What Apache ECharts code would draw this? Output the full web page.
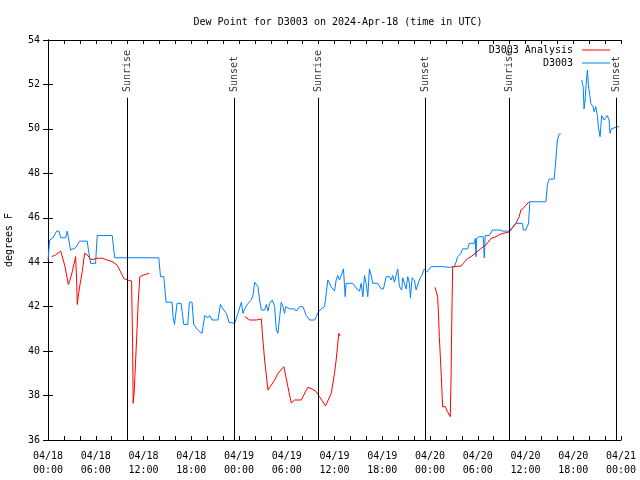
<!DOCTYPE html>
<html>
<head>
<meta charset="utf-8">
<script src="https://cdn.jsdelivr.net/npm/echarts@6/dist/echarts.min.js"></script>
<style>html,body{margin:0;padding:0;background:#fff}#c{width:640px;height:480px}</style>
</head>
<body>
<div id="c"></div>
<script>
// Hours since 2024-04-18 00:00 UTC
var obsHours = [0.00,0.21,0.63,1.09,1.38,1.59,2.22,2.42,2.63,2.76,2.85,3.47,3.70,3.98,4.93,5.06,5.23,5.36,5.98,6.18,8.07,8.28,8.40,13.92,14.14,14.55,14.64,14.84,15.59,15.72,15.89,16.22,16.72,16.85,17.06,17.56,17.77,18.10,18.31,18.82,19.36,19.69,20.11,20.32,20.61,21.36,21.66,21.99,22.42,22.74,23.46,23.87,24.30,24.50,24.71,25.13,25.55,25.75,25.97,26.22,26.38,26.59,26.81,27.22,27.43,27.64,27.85,28.19,28.48,28.69,28.89,29.10,29.31,29.52,29.73,29.85,30.36,30.99,31.20,31.61,32.03,32.24,32.45,32.87,33.49,33.71,34.03,34.33,34.75,34.96,35.16,35.37,35.58,36.00,36.21,36.41,36.62,36.83,37.13,37.34,37.47,38.30,38.80,39.14,39.35,39.56,39.77,39.98,40.18,40.39,40.61,40.81,41.43,41.86,42.15,42.49,42.90,43.12,43.32,43.53,43.94,44.16,44.44,44.57,44.78,45.00,45.20,45.41,45.54,45.75,46.04,46.25,46.66,46.95,47.29,47.58,47.70,48.13,49.59,50.43,51.05,51.27,51.47,51.89,52.09,52.72,52.94,53.56,53.69,53.78,53.88,54.19,54.69,54.82,54.94,55.44,55.86,56.70,57.12,57.96,58.79,59.62,59.71,60.05,60.38,60.55,62.56,62.76,62.97,63.60,63.81,64.01,64.23,64.44,65.50,67.07,67.24,67.36,67.49,67.61,67.78,67.90,68.08,68.20,68.49,68.62,68.83,69.03,69.15,69.37,69.49,69.58,69.87,70.08,70.28,70.50,70.62,70.79,71.54,71.75];
var obsDewpt = [44.1,45.0,45.1,45.4,45.4,45.1,45.1,45.4,45.4,44.7,44.55,44.65,44.65,44.95,44.95,44.6,44.2,43.95,43.95,45.2,45.2,44.5,44.2,44.2,43.35,43.35,42.97,42.2,42.2,41.55,41.2,42.15,42.15,41.8,41.2,41.2,42.2,42.2,41.2,40.95,40.8,41.6,41.5,41.6,41.4,41.4,42.1,41.9,41.7,41.3,41.25,41.7,42.2,41.7,41.9,42.15,42.3,42.5,43.1,43.1,42.9,42.3,41.85,41.85,42.1,41.8,42.15,42.3,42.0,40.95,40.8,41.5,42.2,42.0,41.7,42.0,41.9,41.9,41.8,42.0,42.0,41.8,41.6,41.4,41.4,41.55,41.8,41.9,42.0,42.6,43.2,43.2,42.9,42.7,43.2,43.4,43.2,43.4,43.7,42.45,43.05,43.05,42.8,42.7,43.05,42.45,43.4,43.05,42.45,43.7,43.4,43.05,43.05,42.8,42.8,43.35,43.35,43.2,43.4,43.1,43.7,42.9,42.75,43.3,43.3,42.8,43.35,43.05,42.4,43.3,43.2,42.75,43.2,43.4,43.7,43.55,43.55,43.8,43.8,43.77,43.8,44.0,44.25,44.4,44.6,44.6,44.85,44.85,45.07,44.25,45.07,45.15,45.15,44.2,45.2,45.2,45.45,45.45,45.4,45.4,45.75,45.75,45.45,45.45,45.75,46.72,46.72,47.5,47.74,47.74,48.6,49.5,49.77,49.77,null,52.2,51.9,50.9,51.3,52.0,52.65,51.98,51.5,51.15,51.0,50.77,51.0,50.6,50.1,49.65,50.2,50.6,50.4,50.5,50.6,50.4,49.8,50.0,50.1,50.1];

var anaHours = [0.46,0.97,1.59,1.76,2.09,2.42,2.55,2.76,3.05,3.47,3.60,3.68,3.85,4.01,4.30,4.60,4.93,5.36,5.77,6.18,6.81,7.44,8.07,8.69,9.12,9.53,9.95,10.50,10.63,10.70,10.82,10.91,11.13,11.33,11.54,11.95,12.71,18.00,24.71,25.34,26.18,26.81,26.93,27.22,27.64,28.06,28.48,28.89,29.64,30.14,30.57,30.99,31.82,32.65,33.28,33.71,34.12,34.87,35.59,36.00,36.21,36.54,36.72,42.00,48.63,48.88,48.96,49.08,49.17,49.30,49.42,49.59,49.92,50.21,50.55,50.64,50.77,50.85,51.89,52.31,52.72,53.15,53.78,54.40,55.03,55.66,56.28,56.91,57.54,57.95,58.79,59.21,59.42,59.71,60.05,60.46];
var anaDewpt = [44.25,44.33,44.5,44.3,43.87,43.27,43.0,43.2,43.57,44.25,43.2,42.1,42.6,42.97,43.57,44.4,44.33,44.13,44.13,44.18,44.18,44.1,44.03,43.87,43.57,43.27,43.2,43.15,40.35,37.65,38.1,38.8,40.5,42.15,43.35,43.42,43.5,null,41.55,41.4,41.4,41.45,40.8,39.6,38.25,38.47,38.7,39.0,39.3,38.4,37.67,37.8,37.8,38.37,38.28,38.17,37.95,37.53,38.1,39.0,39.6,40.8,40.68,null,42.87,42.87,42.45,41.55,40.65,39.75,38.85,37.5,37.5,37.27,37.05,38.7,42.15,43.8,43.83,44.0,44.17,44.25,44.43,44.62,44.78,45.07,45.15,45.27,45.33,45.36,45.75,46.05,46.35,46.42,46.57,46.72];

var eventHours = [9.95, 23.38, 33.97, 47.36, 57.97, 71.42];
var eventNames = ['Sunrise', 'Sunset', 'Sunrise', 'Sunset', 'Sunrise', 'Sunset'];

var yTicks = {min: 36, max: 54, step: 2};
var xTicks = {min: 0, max: 72, step: 2, labelStep: 6};

function pairs(xs, ys) {
  return xs.map(function (x, i) { return [x, ys[i] === null ? '-' : ys[i]]; });
}
function pad(n) { return (n < 10 ? '0' : '') + n; }
function xLabel(v) {
  if (Math.round(v) % xTicks.labelStep !== 0) return '';
  var d = 18 + Math.floor(v / 24);
  var h = Math.round(v) % 24;
  return '04/' + pad(d) + '\n' + pad(h) + ':00';
}

var FONT = 'DejaVu Sans Mono';
var chart = echarts.init(document.getElementById('c'), null, {renderer: 'canvas'});
var axisLineStyle = {color: '#000', width: 1};
chart.setOption({
  animation: false,
  backgroundColor: '#fff',
  textStyle: {fontFamily: FONT, fontSize: 10, color: '#000'},
  title: {
    text: 'Dew Point for D3003 on 2024-Apr-18 (time in UTC)',
    left: 333, top: 12, textAlign: 'center',
    textStyle: {fontFamily: FONT, fontSize: 10, fontWeight: 'normal', color: '#000'}
  },
  legend: {
    orient: 'vertical', right: 30, top: 45, padding: 0, itemGap: 3,
    itemWidth: 28, itemHeight: 10, align: 'right', icon: 'path://M0,0L28,0L28,1L0,1Z',
    textStyle: {fontFamily: FONT, fontSize: 10, color: '#000', padding: [0, 4, 0, 0]},
    data: ['D3003 Analysis', 'D3003']
  },
  grid: {left: 48, right: 19, top: 40, bottom: 40, containLabel: false, outerBoundsMode: 'none'},
  xAxis: [{
    type: 'value', min: xTicks.min, max: xTicks.max, interval: xTicks.step,
    axisLine: {show: true, lineStyle: axisLineStyle},
    axisTick: {show: true, inside: true, length: 4, lineStyle: axisLineStyle},
    axisLabel: {formatter: xLabel, fontFamily: FONT, fontSize: 10, color: '#000', lineHeight: 14, margin: 9, showMinLabel: true, showMaxLabel: true},
    splitLine: {show: false}
  }, {
    type: 'value', position: 'top', min: xTicks.min, max: xTicks.max, interval: xTicks.step,
    axisLine: {show: true, lineStyle: axisLineStyle},
    axisTick: {show: true, inside: true, length: 4, lineStyle: axisLineStyle},
    axisLabel: {show: false}, splitLine: {show: false}
  }],
  yAxis: [{
    type: 'value', min: yTicks.min, max: yTicks.max, interval: yTicks.step,
    name: 'degrees F', nameLocation: 'middle', nameGap: 34, nameRotate: 90,
    nameTextStyle: {fontFamily: FONT, fontSize: 10, color: '#000'},
    axisLine: {show: true, lineStyle: axisLineStyle},
    axisTick: {show: true, inside: true, length: 5, lineStyle: axisLineStyle},
    axisLabel: {fontFamily: FONT, fontSize: 10, color: '#000', margin: 8},
    splitLine: {show: false}
  }, {
    type: 'value', position: 'right', min: yTicks.min, max: yTicks.max, interval: yTicks.step,
    axisLine: {show: true, lineStyle: axisLineStyle},
    axisTick: {show: true, inside: true, length: 5, lineStyle: axisLineStyle},
    axisLabel: {show: false}, splitLine: {show: false}
  }],
  series: [{
    name: 'events', type: 'scatter', symbolSize: 0, silent: true,
    data: eventHours.map(function (h, i) { return {value: [h, 51.66], name: eventNames[i]}; }),
    label: {show: true, position: 'inside', rotate: 90, align: 'left', verticalAlign: 'middle',
      formatter: function (p) { return p.name; }, fontFamily: FONT, fontSize: 10, color: '#000'},
    markLine: {
      silent: true, symbol: 'none', animation: false,
      label: {show: false},
      lineStyle: {color: '#000', width: 1, type: 'solid'},
      data: eventHours.map(function (h) { return [{coord: [h, 36]}, {coord: [h, 51.4]}]; })
    }
  }, {
    name: 'D3003 Analysis', type: 'line', symbol: 'none', connectNulls: false,
    lineStyle: {color: '#ff0000', width: 1}, itemStyle: {color: '#ff0000'},
    data: pairs(anaHours, anaDewpt), z: 3
  }, {
    name: 'D3003', type: 'line', symbol: 'none', connectNulls: false,
    lineStyle: {color: '#0080ff', width: 1}, itemStyle: {color: '#0080ff'},
    data: pairs(obsHours, obsDewpt), z: 2
  }]
});
</script>
</body>
</html>
